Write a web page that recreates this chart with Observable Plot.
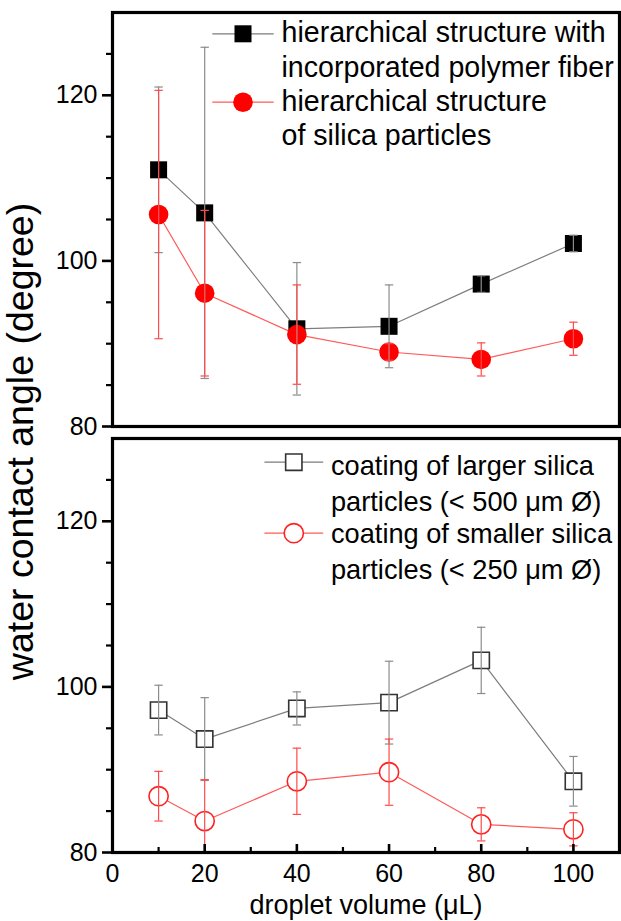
<!DOCTYPE html>
<html><head><meta charset="utf-8">
<script src="https://cdn.jsdelivr.net/npm/d3@7"></script>
<script src="https://cdn.jsdelivr.net/npm/@observablehq/plot@0.6"></script>
<style>
html,body{margin:0;padding:0;background:#fff;}
#chart{width:621px;height:921px;}
</style></head><body><div id="chart"></div>
<script>
// ---- data ----
const volumes = [10, 20, 40, 60, 80, 100];
const fiberAngle = [111.0, 105.8, 91.8, 92.1, 97.2, 102.1];
const fiberErr = [10, 20, 8, 5, 1, 1];
const silicaAngle = [105.6, 96.1, 91.1, 89.0, 88.1, 90.6];
const silicaErr = [15, 10, 6, 1, 2, 2];
const largerAngle = [97.2, 93.7, 97.4, 98.1, 103.2, 88.6];
const largerErr = [3, 5, 2, 5, 4, 3];
const smallerAngle = [86.8, 83.8, 88.6, 89.7, 83.4, 82.8];
const smallerErr = [3, 5, 4, 4, 2, 2];

const panels = ["top", "bottom"];
const xTicks = [0, 20, 40, 60, 80, 100];
const xMinorTicks = [10, 30, 50, 70, 90];
const yTicks = [80, 100, 120];
const yMinorTicks = [85, 90, 95, 105, 110, 115, 125];
const xLabel = "droplet volume (μL)";
const yLabel = "water contact angle (degree)";
const topLegendLabels = ["hierarchical structure with\nincorporated polymer fiber", "hierarchical structure\nof silica particles"];
const bottomLegendLabels = ["coating of larger silica\nparticles (< 500 μm Ø)", "coating of smaller silica\nparticles (< 250 μm Ø)"];

function rows(panel, angles, errs) {
  return volumes.map((v, i) => ({panel, volume: v, angle: angles[i], err: errs[i]}));
}
const fiber = rows("top", fiberAngle, fiberErr);
const silica = rows("top", silicaAngle, silicaErr);
const larger = rows("bottom", largerAngle, largerErr);
const smaller = rows("bottom", smallerAngle, smallerErr);

const FONT = "'Liberation Sans', Arial, Helvetica, sans-serif";
const hline = {draw(ctx, size) { const r = Math.sqrt(size / Math.PI); ctx.moveTo(-r, 0); ctx.lineTo(r, 0); }};

const GRAY_LINE = "#7d7d7d", GRAY_ERR = "#8c8c8c", RED = "#ff0000", RED_LINE = "#ff5a5a", RED_ERR = "#ff4a4a";

const series = [
  {data: fiber, line: GRAY_LINE, err: GRAY_ERR, symbol: "square", fill: "#000", stroke: "none", sw: 0, r: 9.6},
  {data: silica, line: RED_LINE, err: RED_ERR, symbol: "circle", fill: RED, stroke: "none", sw: 0, r: 9.8},
  {data: larger, line: GRAY_LINE, err: GRAY_ERR, symbol: "square", fill: "#fff", stroke: "#333", sw: 1.6, r: 9.2},
  {data: smaller, line: RED_LINE, err: RED_ERR, symbol: "circle", fill: "#fff", stroke: "#ff2020", sw: 1.6, r: 9.6}
];

const legend = [
  {panel: "top", label: topLegendLabels[0], s: series[0], mdx: 130.5, mdy: 21.3, half: 30.7, tdx: 169, tdy: 5.6, lh: 1.2, fs: 28.6},
  {panel: "top", label: topLegendLabels[1], s: series[1], mdx: 130.5, mdy: 89.7, half: 30.7, tdx: 169, tdy: 74, lh: 1.2, fs: 28.6},
  {panel: "bottom", label: bottomLegendLabels[0], s: series[2], mdx: 181.3, mdy: 23.7, half: 29.4, tdx: 218.5, tdy: 10.2, lh: 1.34, fs: 27.2},
  {panel: "bottom", label: bottomLegendLabels[1], s: series[3], mdx: 181.3, mdy: 94.7, half: 29.4, tdx: 218.5, tdy: 78.5, lh: 1.34, fs: 27.2}
];

const marks = [];
// connecting lines
for (const s of series) marks.push(Plot.line(s.data, {x: "volume", y: "angle", fy: "panel", stroke: s.line, strokeWidth: 1.2}));
// markers
for (const s of series) marks.push(Plot.dot(s.data, {x: "volume", y: "angle", fy: "panel", symbol: s.symbol, r: s.r, fill: s.fill, stroke: s.stroke, strokeWidth: s.sw}));
// error bars on top
for (const s of series) {
  marks.push(Plot.ruleX(s.data, {x: "volume", y1: d => d.angle - d.err, y2: d => d.angle + d.err, fy: "panel", stroke: s.err, strokeWidth: 1.2, clip: true}));
  marks.push(Plot.dot(s.data, {x: "volume", y: d => d.angle + d.err, fy: "panel", symbol: hline, r: 4.2, stroke: s.err, strokeWidth: 1.2, clip: true}));
  marks.push(Plot.dot(s.data, {x: "volume", y: d => d.angle - d.err, fy: "panel", symbol: hline, r: 4.2, stroke: s.err, strokeWidth: 1.2, clip: true}));
}
// legend
for (const e of legend) {
  const d = [e];
  marks.push(Plot.dot(d, {fy: "panel", frameAnchor: "top-left", dx: e.mdx, dy: e.mdy, symbol: hline, r: e.half, stroke: e.s.line, strokeWidth: 1.2}));
  marks.push(Plot.dot(d, {fy: "panel", frameAnchor: "top-left", dx: e.mdx, dy: e.mdy, symbol: e.s.symbol, r: e.s.r, fill: e.s.fill, stroke: e.s.stroke, strokeWidth: e.s.sw}));
  marks.push(Plot.text(d, {fy: "panel", text: "label", frameAnchor: "top-left", dx: e.tdx, dy: e.tdy, textAnchor: "start", lineAnchor: "top", lineHeight: e.lh, fontSize: e.fs, fill: "#000"}));
}
// axes
marks.push(Plot.axisY({ticks: yTicks, tickSize: 10, tickPadding: 5, fontSize: 25, strokeWidth: 2.6, label: null, color: "#000"}));
marks.push(Plot.axisY({ticks: yMinorTicks, tickSize: 6, text: null, strokeWidth: 2.2, label: null}));
marks.push(Plot.axisX({ticks: xTicks, tickSize: -8, tickPadding: 20, fontSize: 25, strokeWidth: 2.6, label: null, color: "#000"}));
marks.push(Plot.axisX({ticks: xMinorTicks, tickSize: -5, text: null, strokeWidth: 2.2, label: null}));
marks.push(Plot.frame({stroke: "#000", strokeWidth: 3.2}));
// axis labels
marks.push(Plot.text([{panel: "bottom", label: xLabel}], {fy: "panel", text: "label", frameAnchor: "bottom", dy: 42.4, lineAnchor: "top", fontSize: 27, fill: "#000"}));
marks.push(Plot.text([{panel: "top", label: yLabel}], {fy: "panel", text: "label", frameAnchor: "bottom-left", dx: -80, dy: 15, rotate: -90, textAnchor: "middle", fontSize: 37.5, fill: "#000"}));

const chart = Plot.plot({
  width: 621, height: 921,
  marginTop: 12, marginBottom: 69, marginLeft: 112, marginRight: 2,
  style: {fontFamily: FONT, background: "#fff", color: "#000", overflow: "visible"},
  x: {domain: [0, 110]},
  y: {domain: [80, 130]},
  fy: {domain: panels, axis: null, paddingInner: 0.0282, paddingOuter: 0},
  marks
});
document.getElementById("chart").appendChild(chart);
</script></body></html>
